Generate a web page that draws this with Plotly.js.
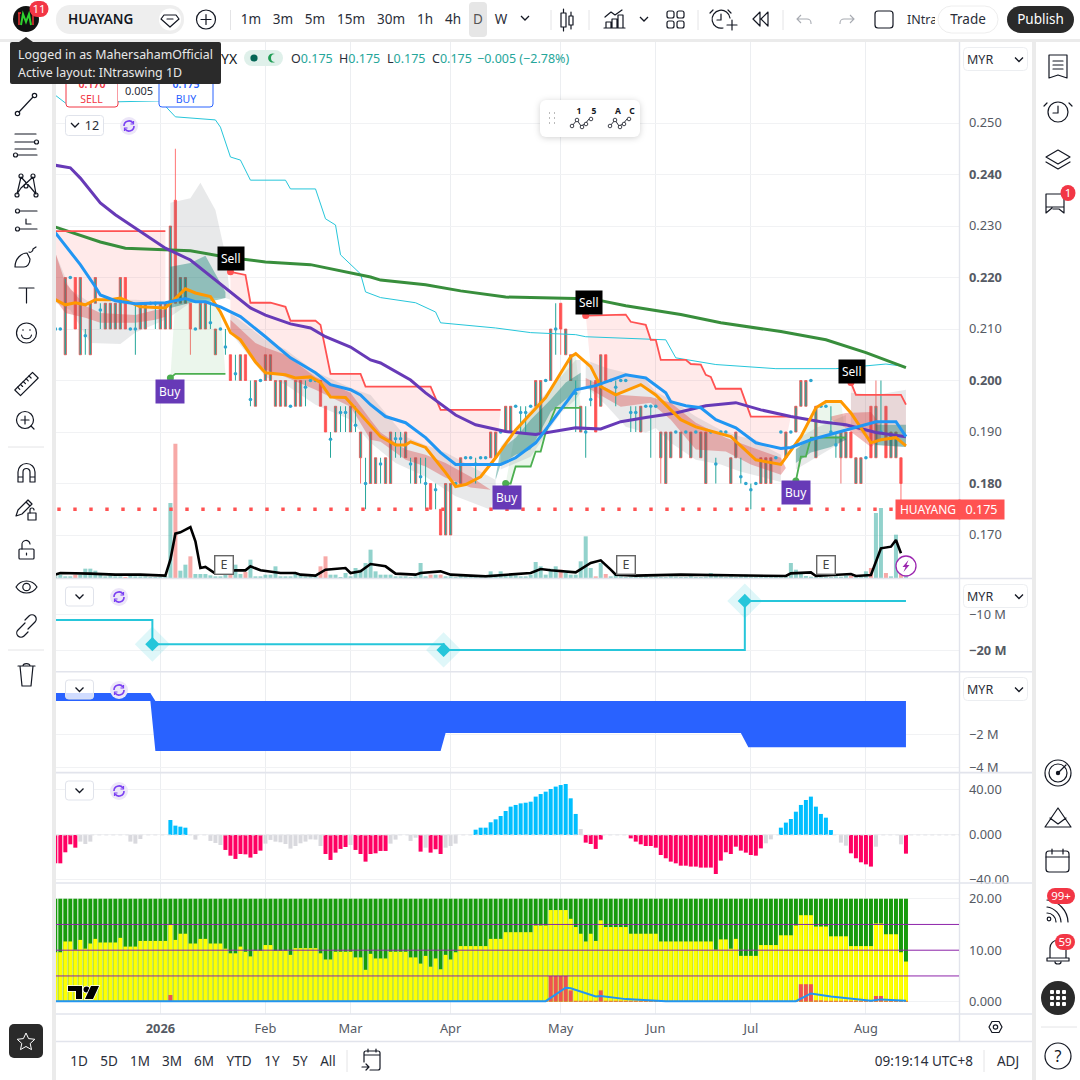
<!DOCTYPE html>
<html><head><meta charset="utf-8">
<script src="https://cdn.plot.ly/plotly-3.0.1.min.js"></script>
<style>
html,body{margin:0;padding:0;width:1080px;height:1080px;overflow:hidden;background:#ebebeb;font-family:"Noto Sans",sans-serif}
.p{position:absolute;background:#fff}
#chart{position:absolute;left:0;top:0;width:1080px;height:1080px}
#ui{position:absolute;left:0;top:0;pointer-events:none}
#ui text{font-family:"Noto Sans",sans-serif}
</style></head><body>
<div class="p" style="left:0;top:0;width:1080px;height:39px"></div>
<div class="p" style="left:0;top:42px;width:52px;height:1038px"></div>
<div class="p" style="left:56px;top:42px;width:976px;height:1038px"></div>
<div class="p" style="left:1036px;top:42px;width:44px;height:1038px"></div>
<div id="chart"></div>
<svg id="ui" width="1080" height="1080" viewBox="0 0 1080 1080"></svg>
<script>
// ---------- OHLC (index = trading bar) ----------
const open=[.21,.21,.205,.22,.22,.205,.2087,.205,.215,.2137,.21,.21,.21,.21,.22,.21,.21,.21,.21,.215,
.215,.21,.21,.21,.235,.215,.215,.215,.21,.21,.21,.2112,.205,.21,.2065,.205,.2013,.20,.205,.1963,
.195,.20,.20,.20,.195,.195,.195,.195,.195,.195,.1987,.20,.20,.20,.195,.1886,.19,.1938,.1938,.19,
.1913,.185,.18,.18,.18,.1838,.18,.18,.1887,.1887,.185,.1838,.18,.1813,.18,.18,.1788,.175,.17,.17,
.18,.18,.185,.185,.1838,.185,.185,.185,.185,.19,.19,.19,.195,.1938,.1938,.195,.195,.19,.20,.20,
.21,.215,.205,.20,.1975,.19,.19,.1963,.20,.195,.205,.20,.1987,.20,.20,.1938,.1938,.19,.195,.195,
.195,.185,.18,.185,.19,.185,.19,.185,.19,.185,.18,.19,.1838,.19,.19,.18,.185,.1813,.18,.1788,
.18,.18,.18,.18,.185,.19,.185,.19,.19,.195,.195,.20,.185,.195,.195,.19,.1875,.185,.185,.19,
.18,.18,.185,.195,.185,.19,.195,.185,.185,.185,.175];
const high=[.215,.21,.22,.22,.22,.22,.21,.215,.22,.215,.215,.215,.215,.22,.22,.21,.215,.215,.215,.215,
.215,.215,.215,.23,.245,.22,.22,.215,.21,.215,.215,.215,.21,.21,.21,.205,.205,.205,.205,.20,
.20,.20,.205,.205,.20,.20,.20,.195,.20,.20,.20,.20,.20,.20,.195,.19,.195,.195,.195,.195,
.195,.19,.185,.19,.185,.185,.185,.19,.19,.19,.19,.185,.185,.185,.185,.18,.18,.175,.18,.18,
.18,.185,.185,.185,.185,.185,.185,.19,.19,.19,.195,.195,.195,.195,.195,.195,.20,.20,.20,.21,
.215,.215,.21,.205,.20,.195,.195,.20,.20,.205,.205,.20,.20,.20,.20,.195,.195,.195,.195,.195,
.195,.19,.19,.19,.19,.19,.19,.19,.19,.19,.19,.19,.185,.19,.19,.185,.19,.185,.18,.18,
.18,.185,.185,.185,.185,.19,.19,.19,.195,.20,.20,.20,.195,.195,.195,.195,.19,.19,.19,.19,
.185,.185,.185,.195,.20,.20,.195,.19,.19,.185,.175];
const low=[.21,.21,.205,.22,.21,.205,.205,.205,.215,.21,.21,.21,.21,.21,.21,.21,.205,.21,.21,.215,
.21,.21,.21,.21,.215,.215,.215,.205,.21,.21,.21,.21,.205,.21,.205,.20,.20,.20,.20,.195,
.195,.20,.20,.20,.195,.195,.195,.195,.195,.195,.195,.20,.20,.195,.19,.185,.19,.19,.19,.19,
.19,.18,.175,.18,.18,.18,.18,.18,.185,.185,.185,.18,.18,.18,.175,.175,.175,.17,.17,.17,
.18,.18,.185,.185,.18,.185,.185,.185,.185,.19,.19,.19,.195,.19,.19,.195,.195,.19,.20,.20,
.205,.205,.205,.20,.19,.19,.185,.195,.19,.195,.20,.20,.195,.20,.20,.19,.19,.19,.195,.185,
.195,.18,.18,.185,.19,.185,.19,.185,.19,.185,.18,.19,.18,.19,.19,.18,.185,.18,.18,.175,
.18,.18,.18,.18,.185,.19,.185,.19,.19,.195,.195,.20,.185,.195,.195,.19,.185,.18,.185,.185,
.18,.18,.185,.185,.185,.19,.185,.185,.185,.175,.175];
const close=[.21,.21,.22,.22,.21,.22,.2087,.215,.22,.2137,.215,.215,.215,.22,.21,.21,.21,.215,.215,.215,
.215,.215,.215,.23,.215,.22,.22,.21,.21,.215,.215,.2112,.21,.21,.2065,.20,.2013,.205,.20,.1963,
.20,.20,.205,.205,.20,.20,.20,.195,.20,.20,.1987,.20,.20,.195,.19,.1886,.195,.1938,.1938,.195,
.1913,.19,.18,.19,.185,.1838,.185,.19,.1887,.1887,.19,.1838,.185,.1813,.18,.175,.1788,.17,.18,.18,
.18,.185,.185,.185,.1838,.185,.185,.19,.19,.19,.195,.195,.195,.1938,.1938,.195,.20,.20,.20,.21,
.21,.21,.21,.205,.1975,.195,.19,.1963,.19,.205,.20,.20,.1987,.20,.20,.1938,.1938,.195,.195,.195,
.195,.19,.19,.19,.19,.19,.19,.19,.19,.19,.19,.19,.1838,.19,.19,.185,.19,.1813,.18,.1788,
.18,.185,.185,.185,.185,.19,.19,.19,.195,.20,.20,.20,.195,.195,.195,.19,.1875,.19,.19,.185,
.185,.185,.185,.185,.195,.19,.185,.19,.19,.18,.175];
const volume=[5,10,5,5,10,10,28,28,22,12,5,8,5,5,3,8,5,5,5,3,3,3,5,225,403,22,40,65,12,12,12,8,5,5,30,12,40,12,18,55,
5,5,10,10,35,5,5,5,12,8,5,5,5,35,65,10,10,3,15,5,30,25,45,85,20,10,10,10,5,5,5,3,5,45,5,10,10,10,5,5,
3,10,5,3,3,3,3,20,10,20,10,8,8,5,5,10,48,35,10,28,35,25,15,10,10,50,125,30,5,45,12,5,10,
5,3,4,3,3,5,3,4,3,3,5,4,3,3,5,3,3,4,15,8,5,3,5,3,5,10,4,3,5,4,3,3,5,4,45,25,12,6,4,3,3,4,3,5,4,8,6,4,5,20,30,195,210,15,5,130,30,5];
const volMaX=[0,1,7,12,17,22,23,24,25,27,28,29,30,32,36,38,39,41,45,48,49,52,54,58,59,61,63,66,68,72,73,77,79,86,95,97,99,104,107,109,111,112,116,125,146,147,151,152,159,160,163,165,167,168,169];
const volMaY=[10,15,13,10,10,7,55,133,137,153,110,30,33,13,23,23,35,23,15,15,10,7,25,30,15,20,42,35,13,10,15,20,10,5,15,27,23,17,45,53,25,10,7,10,6,14,17,6,12,6,9,89,94,114,74];
// ---------- moving lines on the price scale ----------
const purpleX=[0,3,5,9,12,15,22,27,34,39,42,47,51,54,59,63,65,71,74,80,84,90,96,100,104,109,113,118,124,130,136,141,147,153,158,164,170];
const purpleY=[.2418,.2413,.2393,.2345,.2322,.2302,.2257,.2234,.2180,.2141,.2127,.2110,.2102,.2085,.2065,.2040,.2034,.2001,.1976,.1933,.1914,.1901,.1895,.1901,.1908,.1906,.1920,.1928,.1937,.1951,.1957,.1943,.1930,.1920,.1914,.1899,.1891];
const greenX=[0,9,14,27,34,42,51,63,65,74,81,90,104,108,114,125,133,145,154,162,170];
const greenY=[.2298,.2269,.2257,.2252,.2240,.2230,.2225,.2201,.2195,.2186,.2174,.2162,.2159,.2157,.2145,.2128,.2112,.2095,.2079,.2054,.2025];
const cyanX=[0,2,21,24,32,33,35,37,39,46,47,52,54,56,57,61,62,65,72,76,77,88,95,104,106,122,124,132,144,156,166,170];
const cyanY=[.2554,.2539,.2543,.2512,.2506,.2492,.2434,.2428,.2389,.2389,.2372,.2372,.2314,.2302,.2244,.2207,.2172,.2161,.2151,.2133,.2112,.2102,.2093,.2089,.2085,.2079,.2044,.2031,.2023,.2023,.2032,.2027];
const blueX=[0,5,8,9,12,16,22,26,28,30,33,37,42,47,52,55,59,61,63,66,70,74,77,80,89,92,96,99,102,104,108,114,118,122,123,126,129,132,136,140,145,147,151,156,160,164,168,170];
const blueY=[.2287,.2225,.2182,.2166,.2155,.2149,.2151,.2159,.2153,.2153,.2143,.2124,.2085,.2044,.2015,.1992,.1982,.1972,.1953,.1930,.1918,.1889,.1860,.1837,.1837,.1850,.1879,.1918,.1957,.1982,.1990,.2011,.2005,.1976,.1959,.1951,.1947,.1924,.1908,.1879,.1868,.1870,.1885,.1899,.1910,.1920,.1920,.1891];
const orangeX=[0,2,4,6,8,11,13,17,22,24,26,28,31,33,35,37,40,42,46,48,51,53,55,58,61,63,65,68,70,71,74,78,80,82,85,88,92,98,103,104,107,109,112,117,120,123,125,128,132,135,140,145,149,152,154,157,159,163,165,168,170];
const orangeY=[.2157,.2147,.2151,.2147,.2157,.2157,.2160,.2143,.2141,.2160,.2178,.2170,.2163,.2133,.2093,.2079,.2036,.2015,.2011,.2005,.2007,.1996,.1968,.1967,.1934,.1914,.1891,.1875,.1875,.1881,.1870,.1821,.1794,.1798,.1813,.1850,.1904,.1967,.2046,.2052,.2027,.1988,.1972,.1992,.1972,.1943,.1924,.1910,.1899,.1891,.1846,.1837,.1891,.1947,.1959,.1959,.1937,.1879,.1885,.1889,.1873];
// ---------- stop lines ----------
const stop1X=[0,22], stop1Y=[.2290,.2290];
const stop2X=[35,38,39,43,46,47,52,53,55,61,62,75,77,89];
const stop2Y=[.2211,.2205,.2151,.2151,.2143,.2116,.2116,.2108,.2013,.2013,.1988,.1988,.1943,.1943];
const stop3X=[106,114,115,118,119,120,121,126,127,129,130,131,132,137,139,147];
const stop3Y=[.2126,.2128,.2114,.2108,.2079,.2079,.2040,.2040,.2032,.2031,.2011,.2007,.1984,.1984,.1930,.1930];
const stop4X=[159,160,169,170], stop4Y=[.1996,.1972,.1972,.1953];
const buy1X=[23,24,34], buy1Y=[.2005,.2013,.2013];
const buy2X=[90,91,92,95,96,97,98,100,105], buy2Y=[.18,.18,.1833,.1833,.1862,.1862,.1899,.1947,.1947];
const buy3X=[148,149,150,151,158], buy3Y=[.1805,.1852,.1852,.1889,.1889];
// ---------- clouds: upper / lower ----------
const greyAX=[0,3,7,13,16,22], greyAU=[.2248,.2176,.2151,.2157,.2157,.2153], greyAL=[.2151,.2137,.2073,.2071,.2093,.2118];
const redAX=[0,2,6,9,16,20,22], redAU=[.2248,.2190,.2145,.2131,.2127,.2137,.2137], redAL=[.2157,.2131,.2122,.2112,.2112,.2118,.2124];
const greyBX=[23,27,29,32,34,35], greyBU=[.2345,.2354,.2384,.2331,.2244,.2157], greyBL=[.2124,.2151,.2157,.2160,.2160,.2157];
const tealBX=[23,27,30,34], tealBU=[.2221,.2228,.2242,.2172], tealBL=[.2141,.2151,.2151,.2160];
const greyCX=[35,42,46,52,59,63,68,70,74,78,80,87,88], greyCU=[.2131,.2079,.2060,.2017,.1986,.1972,.1914,.1891,.1875,.1860,.1850,.1813,.1807], greyCL=[.2093,.2007,.1992,.1953,.1924,.1879,.1840,.1831,.1813,.1788,.1775,.1749,.1794];
const redCX=[35,40,42,46,52,59,63,65,70,74,78,83,87], redCU=[.2118,.2073,.2064,.2050,.2007,.1976,.1924,.1899,.1866,.1856,.1840,.1813,.1788], redCL=[.2098,.2036,.2021,.2007,.1982,.1949,.1885,.1881,.1846,.1833,.1811,.1792,.1788];
const greyDX=[89,95,101,104,105], greyDU=[.1872,.1943,.2007,.2040,.2040], greyDL=[.1827,.1852,.1937,.1963,.1976];
const tealDX=[88,89,92,95,99,102,105], tealDU=[.1813,.1866,.1889,.1924,.1963,.1996,.2015], tealDL=[.1807,.1837,.1856,.1866,.1939,.1963,.1988];
const greyEX=[106,110,114,118,120,123,128,133,137,140,143,145], greyEU=[.2040,.2025,.2015,.2001,.1978,.1963,.1930,.1904,.1891,.1885,.1866,.1856], greyEL=[.1988,.1953,.1910,.1899,.1908,.1879,.1846,.1837,.1823,.1815,.1807,.1803];
const redEX=[106,113,119,123,128,134,139,145,146], redEU=[.2005,.1972,.1968,.1957,.1918,.1889,.1871,.1850,.1830], redEL=[.1988,.1949,.1957,.1924,.1866,.1862,.1837,.1817,.1830];
const greyFX=[148,152,158], greyFU=[.1885,.1908,.1933], greyFL=[.1827,.1850,.1885];
const tealFX=[148,151,155,158], tealFU=[.1866,.1889,.1893,.1891], tealFL=[.1840,.1860,.1871,.1885];
const greyGX=[159,164,170], greyGU=[.1976,.1972,.1982], greyGL=[.1914,.1875,.1871];
const redGX=[155,158,163,165], redGU=[.1930,.1937,.1939,.1914], redGL=[.1924,.1908,.1871,.1885];
const tealGX=[164,170], tealGU=[.1914,.1914], tealGL=[.1875,.1871];
// ---------- markers ----------
const sellX=[35,106,159], sellY=[.2211,.2126,.1996];
const sellLabelX=[35.2,106.6,159.2], sellLabelY=[.2236,.2151,.2017];
const buyX=[23,90,148], buyY=[.2005,.18,.1805];
const buyLabelX=[23,90.2,148], buyLabelY=[.1978,.1773,.1782];
const earningsX=[33.7,114.1,154.1];
const lastPrice=.175, lastName='HUAYANG', lastText='0.175';
// ---------- pane 2: step line (millions) ----------
const flowX=[0,19.4,19.4,77.6,77.6,137.8,137.8,170], flowY=[-11.4,-11.4,-18.1,-18.1,-19.7,-19.7,-6.1,-6.1];
const flowMarkX=[19.4,77.6,137.8], flowMarkY=[-18.1,-19.7,-6.1];
// ---------- pane 3: filled band (millions) ----------
const bandX=[0,19,20,77,78,137,138.5,170];
const bandUpper=[.48,.48,0,0,0,0,0,0], bandLower=[0,0,-3.03,-3.03,-1.94,-1.94,-2.8,-2.8];
// ---------- pane 4: histogram ----------
const histValues=[-25.2,-25.2,-15.4,-8.3,-11.3,-5.9,-8,-5.9,0,0,0,0,0,0,0,-5.9,-7.7,-3.6,0,0,0,0,0,13.3,8.3,7.4,6.5,0,-4.1,0,0,-5.3,-7.1,-8.9,
-13.3,-18.4,-21.3,-16.9,-17.2,-20.1,-16.9,-13.9,-7.7,-4.4,-5.9,-6.5,-8,-12.1,-9.8,-7.4,-5.9,-3.9,-4.1,-9.8,-16.9,-22.2,-15.7,-12.4,-10.7,-8.9,
-13.3,-16.9,-23.7,-16.9,-16.3,-14.2,-14.2,-7.7,-4.1,0,0,-5.3,-2.4,-14.8,-11.3,-15.7,-12.7,-16.9,-11.3,-9.8,-7.7,0,0,0,
4.7,6.5,6.5,11.3,13.9,16.9,21.3,25.2,26.7,28.1,28.7,29.6,34.1,36.4,38.5,40.9,43,44.4,45.3,32.6,18.7,5.3,-6.8,-8,-12.4,-4.1,0,0,0,0,0,
-3,-5.9,-8.3,-9.8,-9.8,-11.3,-17.8,-20.7,-23.7,-25.2,-27.3,-27.3,-28.1,-28.1,-29,-29,-29,-34.7,-22.8,-15.4,-16.9,-10.4,-13.9,-15.7,-17.8,-18.4,-11.9,-7.4,-3.9,0,
6.5,11,14.2,20.7,26.7,31.1,34.1,25.2,18.7,15.4,4.4,0,-6.8,-9.5,-16.3,-20.7,-24.3,-26.1,-28.1,-10.4,0,0,0,0,-8.3,-16.6];
const histState='ppppp'+'ggg'+'ggggggg'+'ggg'+'ggggg'+'bbbb'+'ggggggg'+'pppppppp'+'gggggggggggg'+'ppppp'+'g'+'ppppppp'+'gggggg'+'p'+'g'+'ppp'+'gggggg'+'bbbbbbbbbbbbbbbbbbbbb'+'g'+'pppp'+'ggggg'+'ppppppppppppppppppppppppppp'+'ggg'+'bbbbbbbbbbb'+'ggg'+'ppppp'+'gggggg'+'p';
// ---------- pane 5: stacked score ----------
const yellowValues=[9.6,9.6,11.7,11.7,10.1,12,10.3,11.3,12.2,11.5,11.5,11.5,11.5,12.4,10.7,10.7,10.7,11.8,11.8,11.8,11.8,11.8,11.8,
14.9,12,13.2,13.2,11.3,11.3,12.2,12.2,11.3,11.3,11.3,10.3,9.4,9.4,10.7,9.7,8.8,9.9,9.9,11,11,9.9,9.9,9.9,9.1,10.4,10.4,10.4,10.4,10.4,9.4,8.2,8.2,
9.7,9.7,9.7,9.7,8.6,8.6,6.2,9.3,8.4,8.4,8.4,9.7,9.7,9.7,9.7,8.6,8.6,7.4,8.9,6.8,8.4,6.3,9.1,8.2,9.6,
10.8,10.8,10.8,10.8,10.8,10.8,12.2,12.2,12.2,13.5,13.5,13.5,13.5,13.5,13.5,14.8,14.8,14.8,17.8,17.8,17.8,17.8,16.1,14.5,13.2,11.7,13.2,11.8,15.8,
14.5,14.5,14.5,14.5,14.5,13.2,13.2,13.2,13.2,13.2,13.2,11.7,11.7,11.7,11.7,11.7,11.7,11.7,11.7,11.7,11.7,11.7,10.1,12.1,12.1,10.3,12.2,8.9,8.9,8.9,8.9,
11,11,11,11,12.9,12.9,12.9,14.8,16.8,16.8,16.8,14.6,14.6,14.6,12.7,12.7,12.7,12.7,10.8,10.8,10.8,10.8,10.8,15.2,15.2,13.1,13.1,13.1,9.6,7.8];
const scoreMax=20;
const redIdx=[23,99,100,101,102,103,109,149,150,151,152,153,164,165], redVal=[1.3,5,5,5,5,2.2,2.2,3.4,3.4,3.4,.25,.25,1.1,1.1];
const scoreLineX=[0,98,102,103,108,109,114,122,148,151,155,163,165,170], scoreLineY=[.1,.1,2.7,2.6,1,1.1,.5,.1,.1,1.6,1,.2,.45,.2];
const scoreLevels=[5,10,15];
// ---------- axes text ----------
const monthVals=[21,42,59,79,101,120,139,162], monthText=['<b>2026</b>','Feb','Mar','Apr','May','Jun','Jul','Aug'];
const priceVals=[.25,.24,.23,.22,.21,.20,.19,.18,.17], priceText=['0.250','<b>0.240</b>','0.230','<b>0.220</b>','0.210','<b>0.200</b>','0.190','<b>0.180</b>','0.170'];
const flowVals=[-10,-20], flowText=['−10 M','<b>−20 M</b>'];
const bandVals=[-2,-4], bandText=['−2 M','−4 M'];
const histVals=[40,0,-40], histText=['40.00','0.000','−40.00'];
const scoreVals=[20,10,0], scoreText=['20.00','10.00','0.000'];

// ---------- build ----------
const N=open.length, bars=open.map((_,i)=>i);
const dom=(t,b)=>[1-b/1080,1-t/1080];
const T=[];
const band=(x,u,l,c)=>{T.push({x,y:l,yaxis:'y',mode:'lines',line:{width:0,color:c}});T.push({x,y:u,yaxis:'y',mode:'lines',line:{width:0,color:c},fill:'tonexty',fillcolor:c});};
const edge=(from,to)=>{const xs=[],ys=[];orangeX.forEach((v,k)=>{if(v>=from&&v<=to){xs.push(v);ys.push(orangeY[k]);}});return {x:xs,y:ys};};
const seg=(sx,sy,c)=>{const e=edge(sx[0],sx[sx.length-1]);
 T.push({x:e.x,y:e.y,yaxis:'y',mode:'lines',line:{width:0}});T.push({x:sx,y:sy,yaxis:'y',mode:'lines',line:{width:0},fill:'tonexty',fillcolor:c});};
const G='rgba(120,122,128,.17)',R='rgba(215,60,60,.36)',E='rgba(0,120,108,.38)',PK='rgba(255,82,82,.12)',GR='rgba(76,175,80,.11)';
seg(stop1X,stop1Y,PK);seg(stop2X,stop2Y,PK);seg(stop3X,stop3Y,PK);seg(stop4X,stop4Y,PK);
seg(buy1X,buy1Y,GR);seg(buy2X,buy2Y,GR);seg(buy3X,buy3Y,GR);
band(greyAX,greyAU,greyAL,G);band(greyBX,greyBU,greyBL,G);band(greyCX,greyCU,greyCL,G);band(greyDX,greyDU,greyDL,G);band(greyEX,greyEU,greyEL,G);band(greyFX,greyFU,greyFL,G);band(greyGX,greyGU,greyGL,G);
band(redAX,redAU,redAL,R);band(redCX,redCU,redCL,R);band(redEX,redEU,redEL,R);band(redGX,redGU,redGL,R);
band(tealBX,tealBU,tealBL,E);band(tealDX,tealDU,tealDL,E);band(tealFX,tealFU,tealFL,E);band(tealGX,tealGU,tealGL,E);
// candles
const body=bars.filter(i=>open[i]!==close[i]), doji=bars.filter(i=>open[i]===close[i]);
T.push({type:'candlestick',x:body,open:body.map(i=>open[i]),high:body.map(i=>high[i]),low:body.map(i=>low[i]),close:body.map(i=>close[i]),yaxis:'y',
 increasing:{line:{color:'#ef5350',width:.8},fillcolor:'#26a69a'},decreasing:{line:{color:'#ff5252',width:.8},fillcolor:'#ff5252'},whiskerwidth:0});
const wx=[],wy=[];doji.forEach(i=>{wx.push(i,i,null);wy.push(low[i],high[i],null);});
T.push({x:wx,y:wy,yaxis:'y',mode:'lines',line:{color:'#26a69a',width:1},connectgaps:false});
T.push({x:doji,y:doji.map(i=>close[i]),yaxis:'y',mode:'markers',marker:{color:'#2ea6cf',size:3.6}});
// lines
const ln=(x,y,c,w)=>T.push({x,y,yaxis:'y',mode:'lines',line:{color:c,width:w}});
ln(cyanX,cyanY,'#26c6da',1);ln(greenX,greenY,'#388e3c',3);
[[stop1X,stop1Y],[stop2X,stop2Y],[stop3X,stop3Y],[stop4X,stop4Y]].forEach(s=>ln(s[0],s[1],'#ff5252',1.8));
[[buy1X,buy1Y],[buy2X,buy2Y],[buy3X,buy3Y]].forEach(s=>ln(s[0],s[1],'#4caf50',1.8));
ln(purpleX,purpleY,'#673ab7',3);ln(orangeX,orangeY,'#ff9800',3);ln(blueX,blueY,'#2196f3',3);
T.push({x:sellX,y:sellY,yaxis:'y',mode:'markers',marker:{color:'#ff5252',size:7}});
T.push({x:buyX,y:buyY,yaxis:'y',mode:'markers',marker:{color:'#4caf50',size:7}});
// volume
T.push({type:'bar',x:bars,y:volume,yaxis:'y2',width:.8,marker:{color:bars.map(i=>close[i]<open[i]?'rgba(239,83,80,.5)':'rgba(38,166,154,.5)')}});
T.push({x:volMaX,y:volMaY,yaxis:'y2',mode:'lines',line:{color:'#000',width:2.6}});
// pane 2
T.push({x:flowX,y:flowY,yaxis:'y3',mode:'lines',line:{color:'#26c6da',width:2}});
T.push({x:flowMarkX,y:flowMarkY,yaxis:'y3',mode:'markers',marker:{symbol:'diamond',color:'rgba(38,198,218,.15)',size:27}});
T.push({x:flowMarkX,y:flowMarkY,yaxis:'y3',mode:'markers',marker:{symbol:'diamond',color:'#26c6da',size:11}});
// pane 3
T.push({x:bandX,y:bandLower,yaxis:'y4',mode:'lines',line:{color:'#2962ff',width:0}});
T.push({x:bandX,y:bandUpper,yaxis:'y4',mode:'lines',line:{color:'#2962ff',width:0},fill:'tonexty',fillcolor:'#2962ff'});
// pane 4
const histColor={p:'#ff0062',g:'#d9d9de',b:'#00bfff'};
T.push({type:'bar',x:bars,y:histValues,yaxis:'y5',width:.8,marker:{color:histState.split('').map(k=>histColor[k])}});
// pane 5
T.push({type:'bar',x:bars,y:bars.map(()=>scoreMax),yaxis:'y6',width:.8,marker:{color:'#169b0b'}});
T.push({type:'bar',x:bars,y:yellowValues,yaxis:'y6',width:.8,marker:{color:'#ffff00'}});
T.push({type:'bar',x:bars,y:bars.map(i=>{const k=redIdx.indexOf(i);return k>=0?redVal[k]:.18;}),yaxis:'y6',width:.8,marker:{color:'#ef5350'}});
T.push({x:scoreLineX,y:scoreLineY,yaxis:'y6',mode:'lines',line:{color:'#2196f3',width:2}});
T.forEach(t=>{t.showlegend=false;t.hoverinfo='skip';});

const GRID='#f1f2f4',TXT='#555a64';
const yax=(t,b,range,vals,text)=>({domain:dom(t,b),range,side:'right',anchor:'x',tickmode:'array',tickvals:vals,ticktext:text,showgrid:true,gridcolor:GRID,gridwidth:1,zeroline:false,ticks:'',ticklabelstandoff:9,tickfont:{size:12.8,color:TXT},showline:false,fixedrange:true});
const pxX=v=>v/1080, pxY=v=>1-v/1080;
const hl=(y)=>({type:'line',xref:'paper',yref:'paper',x0:pxX(56),x1:pxX(1032),y0:pxY(y),y1:pxY(y),line:{color:'#e2e4ec',width:1.6}});
const shapes=[hl(578.5),hl(671.7),hl(772.6),hl(883),hl(1014),hl(1041.5),
 {type:'line',xref:'paper',yref:'paper',x0:pxX(959.5),x1:pxX(959.5),y0:pxY(42),y1:pxY(1041),line:{color:'#e2e4ec',width:1.4}},
 {type:'line',xref:'x',yref:'y',x0:0.4,x1:168.6,y0:lastPrice,y1:lastPrice,line:{color:'#ff5252',width:3.4,dash:'3.4px,12.6px'}},
 {type:'line',xref:'x',yref:'y5',x0:0,x1:180.6,y0:0,y1:0,line:{color:'#e4e4e8',width:1,dash:'4px,3px'}}];
scoreLevels.forEach(v=>shapes.push({type:'line',xref:'paper',yref:'y6',x0:pxX(56),x1:pxX(959),y0:v,y1:v,line:{color:'#8e24aa',width:1}}));
const ann=[];
sellLabelX.forEach((x,k)=>ann.push({x,y:sellLabelY[k],xref:'x',yref:'y',text:'Sell',showarrow:false,bgcolor:'#000',borderpad:3,font:{color:'#fff',size:12}}));
buyLabelX.forEach((x,k)=>ann.push({x,y:buyLabelY[k],xref:'x',yref:'y',text:'Buy',showarrow:false,bgcolor:'#673ab7',borderpad:3,font:{color:'#fff',size:12}}));
earningsX.forEach(x=>ann.push({x,y:39,xref:'x',yref:'y2',text:'E',showarrow:false,bgcolor:'#fff',bordercolor:'#666',borderwidth:1.4,width:15,height:15,font:{color:'#444',size:12.5}}));
ann.push({xref:'paper',x:pxX(928),xanchor:'center',yref:'y',y:lastPrice,text:lastName,showarrow:false,bgcolor:'#ff5252',width:62,height:17,font:{color:'#fff',size:12}});
ann.push({xref:'paper',x:pxX(981.5),xanchor:'center',yref:'y',y:lastPrice,text:lastText,showarrow:false,bgcolor:'#ff5252',width:43,height:17,font:{color:'#fff',size:12.5}});

const layout={width:1080,height:1080,margin:{l:0,r:0,t:0,b:0},paper_bgcolor:'rgba(0,0,0,0)',plot_bgcolor:'rgba(0,0,0,0)',
 barmode:'overlay',hovermode:false,showlegend:false,font:{family:'"Noto Sans",sans-serif'},shapes,annotations:ann,boxmode:'overlay',boxgap:.35,
 xaxis:{domain:[pxX(56),pxX(959)],range:[.14,180.6],anchor:'y6',tickmode:'array',tickvals:monthVals,ticktext:monthText,showgrid:true,gridcolor:'#eceef1',zeroline:false,ticks:'',ticklabelstandoff:5,tickfont:{size:12.8,color:TXT},rangeslider:{visible:false},fixedrange:true,showline:false},
 yaxis:yax(42,578,[.16165,.26573],priceVals,priceText),
 yaxis2:{domain:dom(42,578),range:[0,1608],overlaying:'y',side:'left',anchor:'x',showgrid:false,showticklabels:false,zeroline:false,ticks:'',fixedrange:true},
 yaxis3:yax(579,671,[-25.56,0],flowVals,flowText),
 yaxis4:yax(672,772,[-4.3,1.76],bandVals,bandText),
 yaxis5:yax(773,882,[-41.8,55.1],histVals,histText),
 yaxis6:yax(883,1014,[-2.39,23.05],scoreVals,scoreText)};

Plotly.newPlot('chart',T,layout,{staticPlot:true,displayModeBar:false});

// ---------- terminal chrome ----------
const S='stroke="#131722" stroke-width="1.2" fill="none" stroke-linecap="round" stroke-linejoin="round"';
const txt=(s,x,y,o={})=>`<text x="${x}" y="${y}" font-size="${o.s||13.5}" fill="${o.c||'#131722'}" text-anchor="${o.a||'middle'}" font-weight="${o.w||400}">${s}</text>`;
const badge=(s,x,y,w)=>`<rect x="${x-w/2}" y="${y-8}" width="${w}" height="16" rx="8" fill="#f23645"/>`+txt(s,x,y+4,{s:11.5,c:'#fff'});
const reload=(x,y)=>`<circle cx="${x}" cy="${y}" r="9" fill="#ece6f8"/><path d="M${x-5} ${y}a5 5 0 0 1 9-3M${x+5} ${y}a5 5 0 0 1-9 3" stroke="#7a3ff2" stroke-width="1.6" fill="none"/><path d="M${x+4.5} ${y-5}v3h-3M${x-4.5} ${y+5}v-3h3" stroke="#7a3ff2" stroke-width="1.2" fill="none"/>`;
const chev=(x,y)=>`<path d="M${x-4} ${y-2}l4 4l4-4" stroke="#131722" stroke-width="1.3" fill="none"/>`;
const myr=(y)=>`<rect x="963.5" y="${y}" width="64" height="23" rx="4" fill="#fff" stroke="#eceef1"/>`+txt('MYR',967,y+16,{a:'start',s:12.5,c:'#2a2e39'})+chev(1019,y+12);
let u='';
// top bar
u+=`<circle cx="26" cy="19" r="13" fill="#111"/><path d="M19 25v-12M21 13l-3 0M33 25v-12M31 13l3 0" stroke="#e33" stroke-width="1.5" fill="none"/><path d="M21 25l2-11l3 8l3-8l2 11" stroke="#2fd12f" stroke-width="2" fill="none"/>`+badge('11',39,9,19);
u+=`<rect x="56" y="5" width="128" height="29" rx="14" fill="#eeeeee"/><circle cx="170" cy="19.5" r="11" fill="#fff"/><path d="M164 15h12l3 4l-9 8l-9-8zM167 19h6" ${S}/>`+txt('HUAYANG',68,24,{a:'start',s:13.5,w:600});
u+=`<circle cx="206" cy="19.5" r="9.5" ${S}/><path d="M206 14.5v10M201 19.5h10" ${S}/><path d="M230.5 10v20M551 10v20M589 10v20M698 10v20M783 10v20" stroke="#e4e4e6"/>`;
u+=`<rect x="469" y="2" width="18" height="35" rx="4" fill="#e6e6e6"/>`;
[['1m',251],['3m',283],['5m',315],['15m',351],['30m',391],['1h',425],['4h',453],['D',478],['W',501]].forEach(a=>u+=txt(a[0],a[1],24,{s:13.5,c:a[0]==='D'?'#555':'#2a2e39'}));
u+=chev(525,18);
u+=`<path d="M561 13v14h5v-14zM563.5 9v4M563.5 27v4M569 16v9h4v-9zM571 12v4M571 25v4" ${S}/>`;
u+=`<path d="M605 17l6-5l4 3l7-5M606 28v-6h5v6zM612 28v-9h5v9zM618 28v-13h5v13zM604 28h21" ${S}/>`+chev(644,19);
u+=`<rect x="667" y="11" width="7" height="7" rx="2" ${S}/><rect x="677" y="11" width="7" height="7" rx="2" ${S}/><rect x="667" y="21" width="7" height="7" rx="2" ${S}/><rect x="677" y="21" width="7" height="7" rx="2" ${S}/>`;
u+=`<path d="M730 18a9 9 0 1 0-7 10M721 14v6h-4M713 10l-3 3M728 10l3 3M727 25h10M732 20v10" ${S}/>`;
u+=`<path d="M760 12l-7 7l7 7zM768 12l-7 7l7 7z" ${S}/>`;
u+=`<path d="M801 15l-4 4l4 4M797 19h10a4 4 0 0 1 4 4v1M850 15l4 4l-4 4M854 19h-10a4 4 0 0 0-4 4v1" stroke="#a8abb2" stroke-width="1.1" fill="none"/>`;
u+=`<rect x="875" y="11" width="18" height="17" rx="3" ${S}/>`;
u+=`<svg x="905" y="6" width="30" height="26">`+txt('INtra',2,18,{a:'start',s:12.5,c:'#2a2e39'})+`</svg>`;
u+=`<rect x="938" y="6" width="60" height="27" rx="13.5" fill="#fff" stroke="#eee"/>`+txt('Trade',968,24,{s:13.5,c:'#2a2e39'});
u+=`<rect x="1007" y="6" width="67" height="27" rx="13.5" fill="#2a2a2a"/>`+txt('Publish',1040.5,24,{s:13.5,c:'#fff'});
// legend row
u+=txt('YX',221,64,{a:'start',s:14,c:'#131722'});
u+=`<rect x="244" y="50" width="39" height="16" rx="8" fill="#dff0ea"/><circle cx="254" cy="58" r="3.6" fill="#056656"/><path d="M275 54a4.6 4.6 0 1 0 0 8a3.6 3.6 0 1 1 0-8z" fill="#1f9d55"/>`;
[['O',291,'0.175'],['H',339,'0.175'],['L',387,'0.175'],['C',432,'0.175']].forEach(a=>u+=`<text x="${a[1]}" y="63" font-size="12.5"><tspan fill="#2a2e39">${a[0]}</tspan><tspan fill="#26a69a">${a[2]}</tspan></text>`);
u+=txt('−0.005 (−2.78%)',477,63,{a:'start',s:12.5,c:'#26a69a'});
// sell/buy widget
u+=`<rect x="66" y="72" width="52" height="35" rx="3" fill="#fff" stroke="#f23645"/><rect x="118" y="84" width="41" height="17" fill="#fff"/><rect x="159" y="72" width="54" height="35" rx="3" fill="#fff" stroke="#2962ff"/>`;
u+=txt('0.170',92,88,{s:10.5,c:'#f23645',w:600})+txt('SELL',91.5,103,{s:10.5,c:'#f23645'})+txt('0.005',139,95,{s:11,c:'#2a2e39'})+txt('0.175',186,88,{s:10.5,c:'#2962ff',w:600})+txt('BUY',186,103,{s:10.5,c:'#2962ff'});
u+=`<rect x="65.5" y="115.5" width="38" height="20" rx="3" fill="#fff" stroke="#e0e3eb"/>`+chev(75,125)+txt('12',92,130,{s:12.5,c:'#2a2e39'})+reload(129,126);
// wave widget
u+=`<rect x="540" y="100" width="100" height="37" rx="6" fill="#fff" style="filter:drop-shadow(0 1px 3px rgba(0,0,0,.18))"/>`;
u+=`<path d="M549 113h1M554 113h1M549 118h1M554 118h1M549 123h1M554 123h1" stroke="#bbb" stroke-width="2"/>`;
[574,612].forEach(x=>u+=`<path d="M${x-2} ${126}l5-6l4 6l4-2l4-5" stroke="#131722" stroke-width=".9" fill="none"/>`+[[-2,126],[3,120],[8,127],[12,124],[17,119]].map(p=>`<circle cx="${x+p[0]}" cy="${p[1]}" r="1.8" fill="#fff" stroke="#131722" stroke-width=".8"/>`).join(''));
u+=txt('1',579,114,{s:8.5,w:700})+txt('5',594,114,{s:8.5,w:700})+txt('A',618,114,{s:8.5,w:700})+txt('C',632,114,{s:8.5,w:700});
// pane controls
[587,680,781].forEach((y,k)=>{u+=`<rect x="65.5" y="${y}" width="28" height="19" rx="3" fill="${k===1?'rgba(255,255,255,.78)':'#fff'}" stroke="#e0e3eb"/>`+chev(79.5,y+9.5)+reload(119,y+10);});
u+=myr(47.5)+myr(584.5)+myr(677.5);
u+=`<rect x="961" y="884.5" width="70" height="5" fill="#fff"/>`;
// logo
u+=`<g stroke="#fff" stroke-width="1.6" paint-order="stroke"><path d="M68 986h14v13h-6v-8h-8z" fill="#000"/><circle cx="86.5" cy="989.5" r="3" fill="#000"/><path d="M91 986h8l-6 13h-8z" fill="#000"/></g>`;
// lightning
u+=`<circle cx="906" cy="566" r="10" fill="#fff" stroke="#9c27b0" stroke-width="1.3"/><path d="M908.5 560l-6 7h3l-2 5l6-7h-3z" fill="#9c27b0"/>`;
// left tools
u+=`<path d="M19 112L33 97" ${S}/><circle cx="17.5" cy="113.5" r="2.2" ${S}/><circle cx="34.5" cy="95.5" r="2.2" ${S}/>`;
u+=`<path d="M15 134h21M15 142h19M15 149h21M18 155h19" ${S}/><circle cx="36.5" cy="142" r="2" ${S}/><circle cx="15.5" cy="155" r="2" ${S}/>`;
u+=`<path d="M17 194L21 177L31 188L36 194L33 177L21 188z" ${S}/><circle cx="17" cy="195" r="2" ${S}/><circle cx="21" cy="176" r="2" ${S}/><circle cx="33" cy="176" r="2" ${S}/><circle cx="36" cy="195" r="2" ${S}/><circle cx="26" cy="186" r="2" ${S}/>`;
u+=`<path d="M20 211h17M20 229h17M26 219v5h5" ${S}/><circle cx="17.5" cy="211" r="2" ${S}/><circle cx="17.5" cy="229" r="2" ${S}/>`;
u+=`<path d="M15 267c0-8 6-14 12-14l3 6c0 5-3 8-6 8zM29 252c2 1 4-1 4-3l3-2" ${S}/>`;
u+=`<path d="M19 288h15M26.5 288v15" ${S}/>`;
u+=`<circle cx="26.5" cy="333" r="10" ${S}/><path d="M21.5 335c1 5 9 5 10 0" ${S}/><circle cx="23" cy="330" r=".8" fill="#131722"/><circle cx="30" cy="330" r=".8" fill="#131722"/>`;
u+=`<g transform="rotate(-45 26.5 384)"><rect x="14" y="380" width="25" height="8" ${S}/><path d="M18 380v3M22 380v3M26 380v3M30 380v3M34 380v3" ${S}/></g>`;
u+=`<circle cx="25" cy="420" r="8.5" ${S}/><path d="M31 426l3 3M21 420h8M25 416v8" ${S}/>`;
u+=`<path d="M18 482v-10a8.5 8.5 0 0 1 17 0v10h-5v-10a3.5 3.5 0 0 0-7 0v10zM18 477h5M30 477h5" ${S}/>`;
u+=`<path d="M16 516l2-6l10-10l4 4l-10 10zM26 502l4 4" ${S}/><rect x="28" y="513" width="8" height="7" ${S}/><path d="M30 513v-3a2 2 0 0 1 4 0" ${S}/>`;
u+=`<rect x="19" y="549" width="15" height="10" rx="1" ${S}/><path d="M22 549v-4a4 4 0 0 1 8-1" ${S}/><path d="M26.5 553v2" ${S}/>`;
u+=`<path d="M16 587c5-8 16-8 21 0c-5 8-16 8-21 0z" ${S}/><circle cx="26.5" cy="587" r="3.7" ${S}/>`;
u+=`<path d="M25 620l4-4a4 4 0 0 1 6 6l-7 7M28 632l-4 4a4 4 0 0 1-6-6l7-7" ${S}/>`;
u+=`<path d="M18 666h17M20 666l2 20h9l2-20M23 666a3 2 0 0 1 7 0" ${S}/>`;
u+=`<path d="M8 447h36M8 650h36" stroke="#e4e4e6"/>`;
u+=`<rect x="9" y="1024" width="34" height="34" rx="5" fill="#2a2a2a"/><path d="M26 1033l2.6 5.6l6.2.7l-4.6 4.2l1.3 6.1l-5.5-3.1l-5.5 3.1l1.3-6.1l-4.6-4.2l6.2-.7z" stroke="#fff" stroke-width="1" fill="none"/>`;
// bottom
[['1D',79],['5D',109],['1M',140],['3M',172],['6M',204],['YTD',239],['1Y',272],['5Y',300],['All',328]].forEach(a=>u+=txt(a[0],a[1],1066,{s:13.5,c:'#2a2e39'}));
u+=`<path d="M347 1050v22M984 1050v22" stroke="#e4e4e6"/>`;
u+=`<path d="M364 1062v-9a2 2 0 0 1 2-2h12a2 2 0 0 1 2 2v15a2 2 0 0 1-2 2h-8M364 1055h16M368 1049v3M376 1049v3M362 1067h7M366 1064l3 3l-3 3" ${S}/>`;
u+=txt('09:19:14 UTC+8',973,1066,{a:'end',s:13.5,c:'#2a2e39'})+txt('ADJ',1008,1066,{s:13.5,c:'#2a2e39'});
u+=`<path d="M989 1027l3-5.5h7l3 5.5l-3 5.5h-7z" ${S}/><circle cx="995.5" cy="1027" r="2.2" ${S}/>`;
// right tools
u+=`<path d="M1049 55h18v23l-9-3l-9 3zM1053 61h10M1053 65h10M1053 69h10" ${S}/>`;
u+=`<circle cx="1058" cy="112" r="10" ${S}/><path d="M1058 106v7h-5M1047 103l-3 3M1069 103l3 3" ${S}/>`;
u+=`<path d="M1058 150l12 7l-12 7l-12-7zM1046 162l12 7l12-7" ${S}/>`;
u+=`<path d="M1046 194h18v13h-10l-8 0zM1046 194v19l6-5M1064 204v9l-5-4h-6" ${S}/>`+badge('1',1068,193,15);
u+=`<circle cx="1058" cy="773" r="13" ${S}/><circle cx="1058" cy="773" r="9" ${S}/><circle cx="1058" cy="773" r="2.2" fill="#131722"/><path d="M1058 773l8-8" ${S}/>`;
u+=`<path d="M1045 827l13-19l13 19zM1050 818l8 6l8-6" ${S}/>`;
u+=`<rect x="1046" y="851" width="23" height="21" rx="3" ${S}/><path d="M1046 857h23M1052 849v5M1063 849v5" ${S}/>`;
u+=`<path d="M1047 913a9 9 0 0 1 9 9M1047 907a16 16 0 0 1 14 15M1047 900a23 23 0 0 1 21 22" ${S}/><circle cx="1049" cy="919" r="1.8" ${S}/>`+badge('99+',1061,896,28);
u+=`<path d="M1050 958v-10a8 8 0 0 1 16 0v10M1047 958h22v3h-22zM1055 962a3 2 0 0 0 6 0" ${S}/>`+badge('59',1065,942,20);
u+=`<circle cx="1058" cy="998" r="17" fill="#2a2a2a"/>`;
[-6,0,6].forEach(a=>[-6,0,6].forEach(b=>u+=`<rect x="${1056+a}" y="${996+b}" width="4" height="4" rx="1" fill="#fff"/>`));
u+=`<path d="M1041 1027h36" stroke="#e4e4e6"/><circle cx="1058" cy="1056" r="13" ${S}/>`+txt('?',1058,1062,{s:16});
// tooltip last
u+=`<path d="M19 42l7-5l7 5z" fill="#2a2a2a"/><rect x="10" y="42" width="211" height="42" rx="2" fill="#2a2a2a"/>`+txt('Logged in as MahersahamOfficial',18,59,{a:'start',s:12.4,c:'#e8e8e8'})+txt('Active layout: INtraswing 1D',18,77,{a:'start',s:12.4,c:'#e8e8e8'});
document.getElementById('ui').innerHTML=u;
</script>
</body></html>
